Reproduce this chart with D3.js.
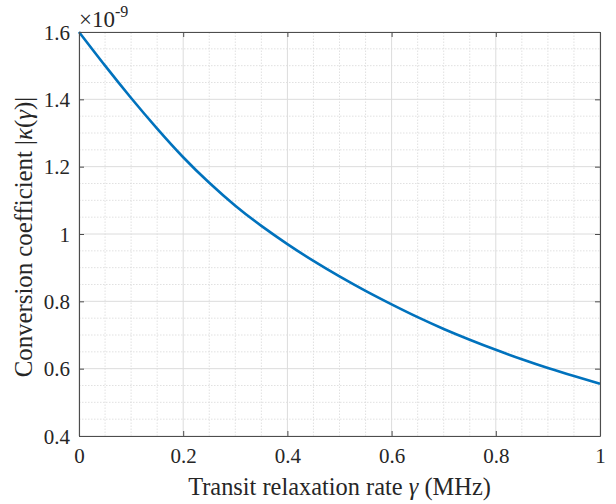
<!DOCTYPE html>
<html>
<head>
<meta charset="utf-8">
<script src="https://cdn.jsdelivr.net/npm/d3@7"></script>
<style>
  body { margin: 0; background: #fff; }
  svg { display: block; font-family: "Liberation Serif", "Times New Roman", serif; }
</style>
</head>
<body>
<div id="chart"></div>
<script>
// transit relaxation rate (MHz)
const gammaValues = [0, 0.05, 0.1, 0.15, 0.2, 0.25, 0.3, 0.35, 0.4, 0.45, 0.5,
  0.55, 0.6, 0.65, 0.7, 0.75, 0.8, 0.85, 0.9, 0.95, 1];
// |kappa(gamma)| in units of 1e-9
const kappaValues = [1.600, 1.500, 1.404, 1.313, 1.228, 1.152, 1.084, 1.024, 0.970, 0.920, 0.874,
  0.831, 0.791, 0.753, 0.718, 0.686, 0.656, 0.628, 0.602, 0.578, 0.555];
const xTicks = [0, 0.2, 0.4, 0.6, 0.8, 1];
const yTicks = [0.4, 0.6, 0.8, 1, 1.2, 1.4, 1.6];

const width = 616;
const height = 504;
const margin = {top: 32, right: 16, bottom: 68, left: 79};
const innerW = width - margin.left - margin.right;
const innerH = height - margin.top - margin.bottom;

const x = d3.scaleLinear().domain([0, 1]).range([margin.left, margin.left + innerW]);
const y = d3.scaleLinear().domain([0.4, 1.6]).range([margin.top + innerH, margin.top]);

const svg = d3.select("#chart").append("svg")
    .attr("width", width)
    .attr("height", height)
    .attr("viewBox", [0, 0, width, height]);

const fmt = d => d3.format("~g")(d);

// minor grid (every 0.05)
const xMinor = d3.range(0, 1.0001, 0.05).filter(v => Math.abs(v * 5 - Math.round(v * 5)) > 1e-6);
const yMinor = d3.range(0.4, 1.6001, 0.05).filter(v => Math.abs(v * 5 - Math.round(v * 5)) > 1e-6);

const grid = svg.append("g");
grid.selectAll(".xminor").data(xMinor).join("line")
    .attr("x1", d => x(d)).attr("x2", d => x(d))
    .attr("y1", y(0.4)).attr("y2", y(1.6))
    .attr("stroke", "#d9d9d9").attr("stroke-width", 0.8).attr("stroke-dasharray", "1.5,1.5");
grid.selectAll(".yminor").data(yMinor).join("line")
    .attr("y1", d => y(d)).attr("y2", d => y(d))
    .attr("x1", x(0)).attr("x2", x(1))
    .attr("stroke", "#d9d9d9").attr("stroke-width", 0.8).attr("stroke-dasharray", "1.5,1.5");
grid.selectAll(".xmajor").data(xTicks).join("line")
    .attr("x1", d => x(d)).attr("x2", d => x(d))
    .attr("y1", y(0.4)).attr("y2", y(1.6))
    .attr("stroke", "#dcdcdc").attr("stroke-width", 1);
grid.selectAll(".ymajor").data(yTicks).join("line")
    .attr("y1", d => y(d)).attr("y2", d => y(d))
    .attr("x1", x(0)).attr("x2", x(1))
    .attr("stroke", "#dcdcdc").attr("stroke-width", 1);

// data line
const line = d3.line()
    .x((d, i) => x(gammaValues[i]))
    .y(d => y(d))
    .curve(d3.curveNatural);

svg.append("path")
    .datum(kappaValues)
    .attr("fill", "none")
    .attr("stroke", "#0072BD")
    .attr("stroke-width", 2.6)
    .attr("d", line);

// axes with inward ticks, box on all sides
const axisColor = "#4d4d4d";
const tickLen = 5;

const axBottom = svg.append("g")
    .attr("transform", `translate(0,${y(0.4)})`)
    .call(d3.axisBottom(x).tickValues(xTicks).tickFormat(fmt).tickSizeInner(-tickLen).tickSizeOuter(0).tickPadding(12));
const axTop = svg.append("g")
    .attr("transform", `translate(0,${y(1.6)})`)
    .call(d3.axisTop(x).tickValues(xTicks).tickFormat("").tickSizeInner(-tickLen).tickSizeOuter(0));
const axLeft = svg.append("g")
    .attr("transform", `translate(${x(0)},0)`)
    .call(d3.axisLeft(y).tickValues(yTicks).tickFormat(fmt).tickSizeInner(-tickLen).tickSizeOuter(0).tickPadding(9));
const axRight = svg.append("g")
    .attr("transform", `translate(${x(1)},0)`)
    .call(d3.axisRight(y).tickValues(yTicks).tickFormat("").tickSizeInner(-tickLen).tickSizeOuter(0));

[axBottom, axTop, axLeft, axRight].forEach(g => {
  g.select(".domain").attr("stroke", axisColor).attr("stroke-width", 1.1);
  g.selectAll(".tick line").attr("stroke", axisColor).attr("stroke-width", 1);
  g.selectAll(".tick text")
      .attr("fill", "#262626")
      .style("font-family", "'Liberation Serif', 'Times New Roman', serif")
      .style("font-size", "21px");
});
axBottom.selectAll(".tick text").attr("dy", "0.71em");
axLeft.selectAll(".tick text").attr("dy", "0.34em");

// exponent label
const expo = svg.append("text")
    .attr("x", x(0))
    .attr("y", 27)
    .attr("fill", "#262626")
    .style("font-size", "23px");
expo.append("tspan").text("\u00d710");
expo.append("tspan").attr("dy", -10).style("font-size", "16px").text("-9");

// x axis title
const xTitle = svg.append("text")
    .attr("x", x(0.5))
    .attr("y", 495)
    .attr("text-anchor", "middle")
    .attr("fill", "#262626")
    .style("font-size", "24.4px");
xTitle.append("tspan").text("Transit relaxation rate ");
xTitle.append("tspan").style("font-style", "italic").text("\u03b3");
xTitle.append("tspan").text(" (MHz)");

// y axis title
const yTitle = svg.append("text")
    .attr("transform", `translate(32,237) rotate(-90)`)
    .attr("text-anchor", "middle")
    .attr("fill", "#262626")
    .style("font-size", "24.8px");
yTitle.append("tspan").text("Conversion coefficient |");
yTitle.append("tspan").style("font-style", "italic").text("\u03ba");
yTitle.append("tspan").text("(");
yTitle.append("tspan").style("font-style", "italic").text("\u03b3");
yTitle.append("tspan").text(")|");
</script>
</body>
</html>
